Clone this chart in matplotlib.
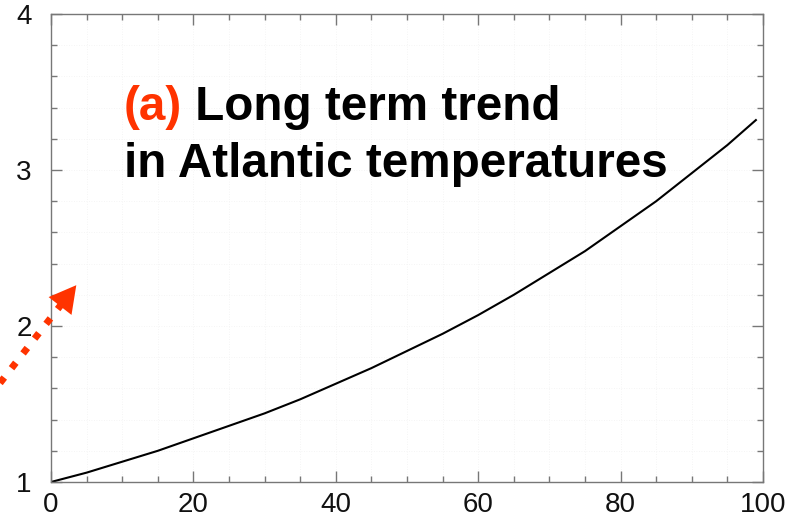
import matplotlib

matplotlib.use("Agg")

import matplotlib.pyplot as plt
from matplotlib.lines import Line2D
from matplotlib.patches import FancyArrowPatch
from matplotlib.ticker import MultipleLocator

# curve
years = [0, 5, 10, 15, 20, 25, 30, 35, 40, 45, 50, 55, 60, 65, 70, 75, 80, 85, 90, 95, 99]
trend = [1.00, 1.06, 1.13, 1.20, 1.28, 1.36, 1.44, 1.53, 1.63, 1.73, 1.84,
         1.95, 2.07, 2.20, 2.34, 2.48, 2.64, 2.80, 2.98, 3.16, 3.32]

x_ticks = [0, 20, 40, 60, 80, 100]
y_ticks = [1, 2, 3, 4]

accent = "#ff3300"
plt.rcParams["font.family"] = ["Liberation Sans", "DejaVu Sans"]

fig = plt.figure(figsize=(8.03, 5.21), dpi=100)
ax = fig.add_axes([51 / 803, 1 - 482 / 521, 712 / 803, 468 / 521])

ax.plot(years, trend, color="black", linewidth=1.5, solid_joinstyle="round")

ax.set_xlim(0, 100)
ax.set_ylim(1, 4)
ax.set_xticks(x_ticks)
ax.set_yticks(y_ticks)
ax.xaxis.set_minor_locator(MultipleLocator(5))
ax.yaxis.set_minor_locator(MultipleLocator(0.2))
ax.tick_params(which="both", direction="in", top=True, right=True,
               color="#777777", width=1.0, labelsize=20, labelcolor="#111111")
ax.tick_params(which="major", length=8)
ax.tick_params(which="minor", length=4)
ax.tick_params(axis="x", which="major", pad=7)
ax.tick_params(axis="y", which="major", pad=14)
for spine in ax.spines.values():
    spine.set_color("#777777")
    spine.set_linewidth(1.0)
ax.grid(which="both", color="#f2f2f2", linestyle=(0, (1, 2)), linewidth=0.6)
ax.set_axisbelow(True)

# two-line label, "(a)" in accent colour
fs = 34.3
t_a = fig.text(124 / 803, 1 - 120 / 521, "(a)", color=accent, fontsize=fs,
               fontweight="bold", ha="left", va="baseline")
fig.canvas.draw()
bb = t_a.get_window_extent()
fig.text(bb.x1 / fig.bbox.width, 1 - 120 / 521, " Long term trend", color="black",
         fontsize=fs, fontweight="bold", ha="left", va="baseline")
fig.text(124 / 803, 1 - 177 / 521, "in Atlantic temperatures", color="black",
         fontsize=fs, fontweight="bold", ha="left", va="baseline")

# dotted arrow coming in from the left edge
x0, y0 = 0 / 803, 1 - 383 / 521
x1, y1 = 78 / 803, 1 - 283 / 521
xm, ym = x0 + (x1 - x0) * 0.78, y0 + (y1 - y0) * 0.78
fig.add_artist(Line2D([x0, xm], [y0, ym], transform=fig.transFigure, color=accent,
                      linewidth=5.0, linestyle=(0, (1, 1.7)), dash_capstyle="butt"))
fig.add_artist(FancyArrowPatch((xm, ym), (x1, y1), transform=fig.transFigure,
                               arrowstyle="-|>,head_length=1.0,head_width=0.55",
                               mutation_scale=19, color=accent, linewidth=0))

fig.savefig("out.png", dpi=100)
